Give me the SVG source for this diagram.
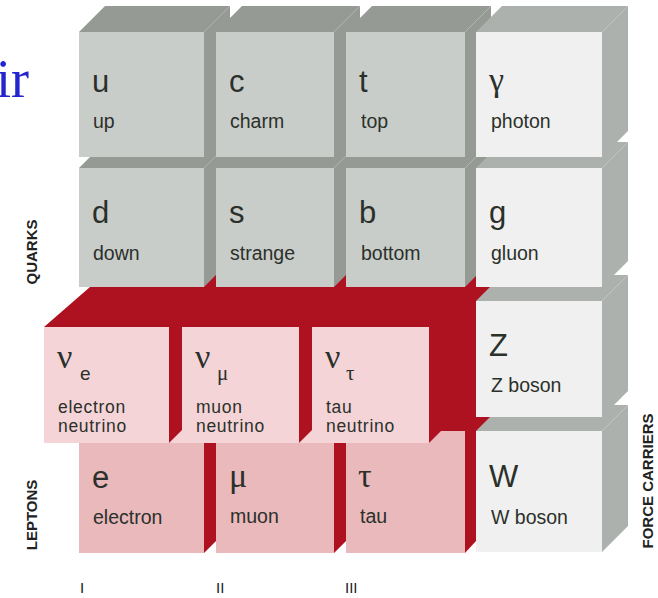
<svg xmlns="http://www.w3.org/2000/svg" width="658" height="598" viewBox="0 0 658 598">
<style>
.qt{fill:#959a95}
.ft{fill:#adb1ad}
.qf{fill:#c9cdc9}
.ff{fill:#f0f0f0}
.red{fill:#ae111f}
.nf{fill:#f4d4d7}
.lf{fill:#e9b9bc}
.sym{font-family:"Liberation Sans",Arial,sans-serif;font-size:31px;fill:#2b302b}
.gk{font-family:"Liberation Serif","DejaVu Serif",serif;font-size:34px;fill:#2b302b}
.sub{font-family:"Liberation Sans",Arial,sans-serif;font-size:19px;fill:#2b302b}
.gsub{font-family:"Liberation Serif","DejaVu Serif",serif;font-size:21px;fill:#2b302b}
.nm{font-family:"Liberation Sans",Arial,sans-serif;font-size:19.5px;fill:#2b302b}
.nm2{font-family:"Liberation Sans",Arial,sans-serif;font-size:17.5px;letter-spacing:0.7px;fill:#2b302b}
.side{font-family:"Liberation Sans",Arial,sans-serif;font-size:15px;font-weight:bold;fill:#222}
.num{font-family:"Liberation Sans",Arial,sans-serif;font-size:15px;fill:#222}
</style>
<rect width="658" height="598" fill="#ffffff"/>
<text x="29" y="97" text-anchor="end" font-family="Liberation Serif,serif" font-size="54" fill="#2525d0">ir</text>

<g id="lepton-frame">
<polygon class="red" points="44,327 90,287 90,270 500,270 500,541 476,541 465,553 346,553 346,541 334,553 216,553 216,541 204,553 79,553 79,443 44,443"/>
</g>

<g id="depth-faces">
<polygon class="qt" points="79,168 204,168 230,142 105,142"/>
<polygon class="qt" points="216,168 334,168 360,142 242,142"/>
<polygon class="qt" points="346,168 465,168 491,142 372,142"/>
<polygon class="qt" points="204,168 230,142 230,261 204,287"/>
<polygon class="qt" points="334,168 360,142 360,261 334,287"/>
<polygon class="qt" points="465,168 491,142 491,261 465,287"/>
<polygon class="qt" points="79,32 204,32 230,6 105,6"/>
<polygon class="qt" points="216,32 334,32 360,6 242,6"/>
<polygon class="qt" points="346,32 465,32 491,6 372,6"/>
<polygon class="qt" points="204,32 230,6 230,131 204,157"/>
<polygon class="qt" points="334,32 360,6 360,131 334,157"/>
<polygon class="qt" points="465,32 491,6 491,131 465,157"/>
<polygon class="ft" points="476,431 602,431 628,405 502,405"/>
<polygon class="ft" points="602,431 628,405 628,526 602,552"/>
<polygon class="ft" points="476,301 602,301 628,275 502,275"/>
<polygon class="ft" points="602,301 628,275 628,391 602,417"/>
<polygon class="ft" points="476,168 602,168 628,142 502,142"/>
<polygon class="ft" points="602,168 628,142 628,261 602,287"/>
<polygon class="ft" points="476,32 602,32 628,6 502,6"/>
<polygon class="ft" points="602,32 628,6 628,131 602,157"/>
</g>

<g id="node-up"><rect class="qf" x="79" y="32" width="125" height="125"/>
<text class="sym" x="92" y="92">u</text><text class="nm" x="93" y="128">up</text></g>
<g id="node-charm"><rect class="qf" x="216" y="32" width="118" height="125"/>
<text class="sym" x="229" y="92">c</text><text class="nm" x="230" y="128">charm</text></g>
<g id="node-top"><rect class="qf" x="346" y="32" width="119" height="125"/>
<text class="sym" x="359" y="92">t</text><text class="nm" x="361" y="128">top</text></g>
<g id="node-photon"><rect class="ff" x="476" y="32" width="126" height="125"/>
<text class="gk" x="489" y="91">γ</text><text class="nm" x="491" y="128">photon</text></g>

<g id="node-down"><rect class="qf" x="79" y="168" width="125" height="119"/>
<text class="sym" x="92" y="223">d</text><text class="nm" x="93" y="260">down</text></g>
<g id="node-strange"><rect class="qf" x="216" y="168" width="118" height="119"/>
<text class="sym" x="229" y="223">s</text><text class="nm" x="230" y="260">strange</text></g>
<g id="node-bottom"><rect class="qf" x="346" y="168" width="119" height="119"/>
<text class="sym" x="359" y="223">b</text><text class="nm" x="361" y="260">bottom</text></g>
<g id="node-gluon"><rect class="ff" x="476" y="168" width="126" height="119"/>
<text class="sym" x="489" y="223">g</text><text class="nm" x="491" y="260">gluon</text></g>

<g id="node-zboson"><rect class="ff" x="476" y="301" width="126" height="116"/>
<text class="sym" x="489" y="356">Z</text><text class="nm" x="491" y="392">Z boson</text></g>
<g id="node-wboson"><rect class="ff" x="476" y="431" width="126" height="121"/>
<text class="sym" x="489" y="487">W</text><text class="nm" x="491" y="524">W boson</text></g>

<g id="node-electron"><rect class="lf" x="79" y="443" width="125" height="110"/>
<text class="sym" x="92" y="488">e</text><text class="nm" x="93" y="524">electron</text></g>
<g id="node-muon"><rect class="lf" x="216" y="443" width="118" height="110"/>
<text class="gk" x="229" y="487">μ</text><text class="nm" x="230" y="523">muon</text></g>
<g id="node-tau"><rect class="lf" x="346" y="431" width="119" height="122"/>
<text class="gk" x="358" y="487">τ</text><text class="nm" x="360" y="523">tau</text></g>

<g id="node-electron-neutrino"><rect class="nf" x="44" y="327" width="125" height="116"/>
<polygon class="nf" points="169,443 182,430 182,443"/>
<text class="gk" x="57" y="368">ν</text><text class="sub" x="80" y="380">e</text>
<text class="nm2" x="58" y="413">electron</text><text class="nm2" x="58" y="432">neutrino</text></g>
<g id="node-muon-neutrino"><rect class="nf" x="182" y="327" width="117" height="116"/>
<polygon class="nf" points="299,443 312,430 312,443"/>
<text class="gk" x="195" y="368">ν</text><text class="gsub" x="217" y="380">μ</text>
<text class="nm2" x="196" y="413">muon</text><text class="nm2" x="196" y="432">neutrino</text></g>
<g id="node-tau-neutrino"><polygon class="red" points="429,430 442,430 429,443"/>
<rect class="nf" x="312" y="327" width="117" height="116"/>
<text class="gk" x="325" y="368">ν</text><text class="gsub" x="346" y="380">τ</text>
<text class="nm2" x="326" y="413">tau</text><text class="nm2" x="326" y="432">neutrino</text></g>

<g id="labels">
<text class="side" transform="translate(37,252) rotate(-90)" text-anchor="middle">QUARKS</text>
<text class="side" transform="translate(37,515) rotate(-90)" text-anchor="middle">LEPTONS</text>
<text class="side" transform="translate(653,481) rotate(-90)" text-anchor="middle">FORCE CARRIERS</text>
<text class="num" x="80" y="593">I</text>
<text class="num" x="216" y="593">II</text>
<text class="num" x="345" y="593">III</text>
</g>
<g id="connectors"/>
</svg>
